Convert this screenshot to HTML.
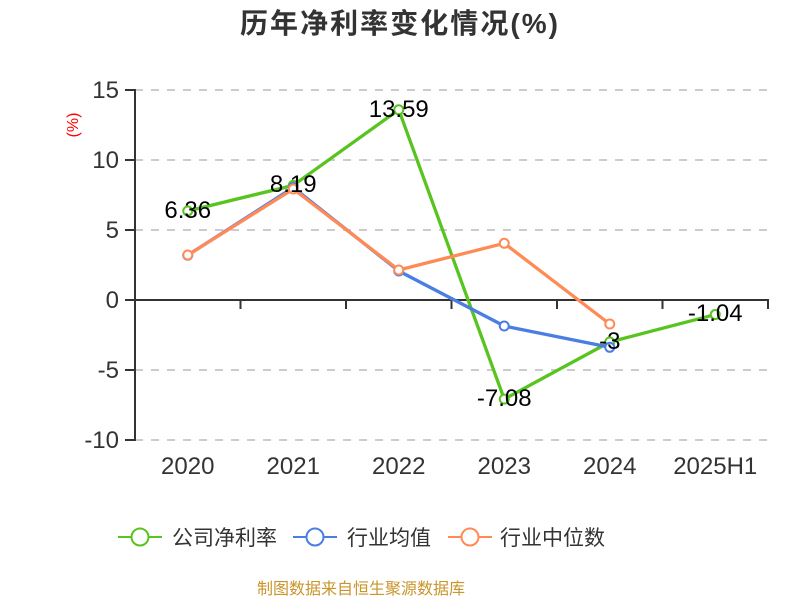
<!DOCTYPE html>
<html>
<head>
<meta charset="utf-8">
<style>
  html, body { margin: 0; padding: 0; background: #fff; }
  svg { display: block; }
  text { font-family: "Liberation Sans", "Noto Sans CJK SC", sans-serif; }
</style>
</head>
<body>
<svg width="800" height="600" viewBox="0 0 800 600" xmlns="http://www.w3.org/2000/svg">
  <rect width="800" height="600" fill="#fff"/>
  <!-- Title -->
  <text x="399" y="33" text-anchor="middle" font-size="28" font-weight="bold" fill="#333" textLength="318" lengthAdjust="spacing">历年净利率变化情况(%)</text>

  <!-- Y axis unit -->
  <text transform="translate(78,125) rotate(-90)" text-anchor="middle" font-size="16" fill="#ff0000">(%)</text>

  <!-- Grid lines -->
  <g stroke="#cccccc" stroke-width="2" stroke-dasharray="8,8">
    <line x1="135" y1="90" x2="768" y2="90"/>
    <line x1="135" y1="160" x2="768" y2="160"/>
    <line x1="135" y1="230" x2="768" y2="230"/>
    <line x1="135" y1="370" x2="768" y2="370"/>
    <line x1="135" y1="440" x2="768" y2="440"/>
  </g>

  <!-- Axes -->
  <g stroke="#333" stroke-width="2">
    <line x1="135" y1="89" x2="135" y2="441"/>
    <line x1="125" y1="90" x2="135" y2="90"/>
    <line x1="125" y1="160" x2="135" y2="160"/>
    <line x1="125" y1="230" x2="135" y2="230"/>
    <line x1="125" y1="300" x2="135" y2="300"/>
    <line x1="125" y1="370" x2="135" y2="370"/>
    <line x1="125" y1="440" x2="135" y2="440"/>
    <line x1="134" y1="300" x2="769" y2="300"/>
    <line x1="240.5" y1="300" x2="240.5" y2="309"/>
    <line x1="346" y1="300" x2="346" y2="309"/>
    <line x1="451.5" y1="300" x2="451.5" y2="309"/>
    <line x1="557" y1="300" x2="557" y2="309"/>
    <line x1="662.5" y1="300" x2="662.5" y2="309"/>
    <line x1="768" y1="300" x2="768" y2="309"/>
  </g>

  <!-- Y labels -->
  <g font-size="24" fill="#333" text-anchor="end">
    <text x="119" y="98">15</text>
    <text x="119" y="168">10</text>
    <text x="119" y="238">5</text>
    <text x="119" y="308">0</text>
    <text x="119" y="378">-5</text>
    <text x="119" y="448">-10</text>
  </g>

  <!-- X labels -->
  <g font-size="24" fill="#333" text-anchor="middle">
    <text x="187.75" y="474">2020</text>
    <text x="293.25" y="474">2021</text>
    <text x="398.75" y="474">2022</text>
    <text x="504.25" y="474">2023</text>
    <text x="609.75" y="474">2024</text>
    <text x="715.25" y="474">2025H1</text>
  </g>

  <!-- Series: company (green) -->
  <polyline fill="none" stroke="#58c41f" stroke-width="3.3" stroke-linejoin="round"
    points="187.75,210.96 293.25,185.34 398.75,109.74 504.25,399.12 609.75,342 715.25,314.56"/>
  <g fill="#fff" stroke="#58c41f" stroke-width="2">
    <circle cx="187.75" cy="210.96" r="4.5"/>
    <circle cx="293.25" cy="185.34" r="4.5"/>
    <circle cx="398.75" cy="109.74" r="4.5"/>
    <circle cx="504.25" cy="399.12" r="4.5"/>
    <circle cx="609.75" cy="342" r="4.5"/>
    <circle cx="715.25" cy="314.56" r="4.5"/>
  </g>

  <!-- Series: industry mean (blue) -->
  <polyline fill="none" stroke="#4a7ee3" stroke-width="3.3" stroke-linejoin="round"
    points="187.75,255.2 293.25,187.5 398.75,271 504.25,326 609.75,347.3"/>
  <g fill="#fff" stroke="#4a7ee3" stroke-width="2">
    <circle cx="187.75" cy="255.2" r="4.5"/>
    <circle cx="293.25" cy="187.5" r="4.5"/>
    <circle cx="398.75" cy="271" r="4.5"/>
    <circle cx="504.25" cy="326" r="4.5"/>
    <circle cx="609.75" cy="347.3" r="4.5"/>
  </g>

  <!-- Series: industry median (orange) -->
  <polyline fill="none" stroke="#ff8a56" stroke-width="3.3" stroke-linejoin="round"
    points="187.75,255 293.25,189 398.75,270 504.25,243.3 609.75,324"/>
  <g fill="#fff" stroke="#ff8a56" stroke-width="2">
    <circle cx="187.75" cy="255" r="4.5"/>
    <circle cx="293.25" cy="189" r="4.5"/>
    <circle cx="398.75" cy="270" r="4.5"/>
    <circle cx="504.25" cy="243.3" r="4.5"/>
    <circle cx="609.75" cy="324" r="4.5"/>
  </g>

  <!-- Data labels -->
  <g font-size="24" fill="#000" text-anchor="middle">
    <text x="187.75" y="218">6.36</text>
    <text x="293.25" y="192">8.19</text>
    <text x="398.75" y="117">13.59</text>
    <text x="504.25" y="406">-7.08</text>
    <text x="609.75" y="349">-3</text>
    <text x="715.25" y="321">-1.04</text>
  </g>

  <!-- Legend -->
  <g stroke-width="2" fill="#fff">
    <line x1="118" y1="537" x2="162" y2="537" stroke="#58c41f"/>
    <circle cx="140" cy="537" r="8.5" stroke="#58c41f"/>
    <line x1="293" y1="537" x2="337" y2="537" stroke="#4a7ee3"/>
    <circle cx="315" cy="537" r="8.5" stroke="#4a7ee3"/>
    <line x1="448" y1="537" x2="492" y2="537" stroke="#ff8a56"/>
    <circle cx="470" cy="537" r="8.5" stroke="#ff8a56"/>
  </g>
  <g font-size="21" fill="#333">
    <text x="172" y="545">公司净利率</text>
    <text x="347" y="545">行业均值</text>
    <text x="500" y="545">行业中位数</text>
  </g>

  <!-- Footer -->
  <text x="361" y="594" text-anchor="middle" font-size="16" fill="#c9952a">制图数据来自恒生聚源数据库</text>
</svg>
</body>
</html>
